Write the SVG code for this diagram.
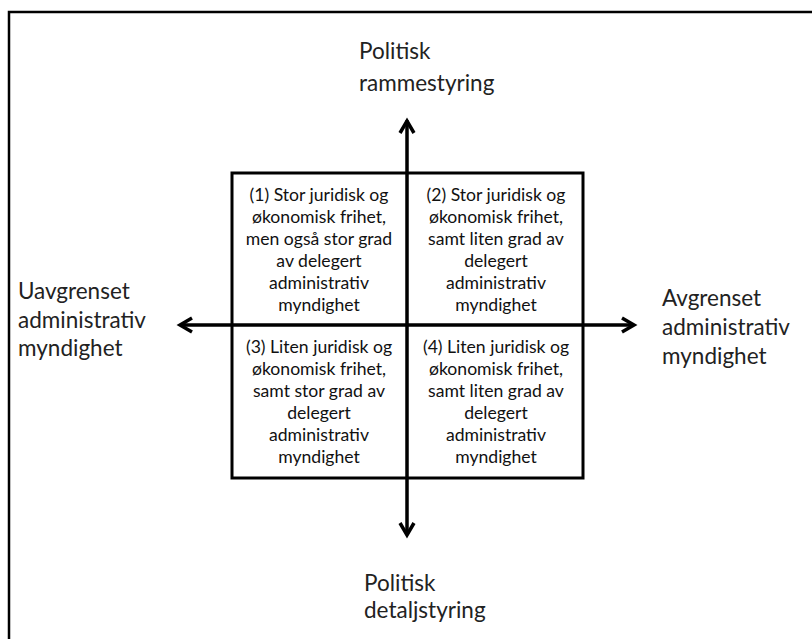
<svg xmlns="http://www.w3.org/2000/svg" width="812" height="639" viewBox="0 0 812 639">
<style>
.lbl{font-family:Lato,"Open Sans","Liberation Sans",sans-serif;font-size:22.5px;fill:#222}
.q{font-family:Lato,"Open Sans","Liberation Sans",sans-serif;font-size:17.6px;fill:#111;text-anchor:middle}
.ax{stroke:#000;stroke-width:3;fill:none}
</style>
<defs>
<marker id="ah" markerUnits="userSpaceOnUse" markerWidth="20" markerHeight="20" viewBox="-16 -10 20 20" refX="0" refY="0" orient="auto">
<path d="M-12,-7 L0,0 L-12,7" fill="none" stroke="#000" stroke-width="3.5" stroke-linejoin="miter"/>
</marker>
</defs>
<rect width="812" height="639" fill="#fff"/>
<path d="M9,639 V12 H812" fill="none" stroke="#000" stroke-width="2.5"/>
<g id="frame">
<rect x="232" y="173" width="351" height="305" fill="#fff" stroke="#000" stroke-width="3"/>
</g>
<g id="connectors">
<line class="ax" x1="407" y1="530" x2="407" y2="121" marker-end="url(#ah)"/>
<line class="ax" x1="407" y1="120" x2="407" y2="535" marker-end="url(#ah)"/>
<line class="ax" x1="634" y1="325" x2="180" y2="325" marker-end="url(#ah)"/>
<line class="ax" x1="180" y1="325" x2="634" y2="325" marker-end="url(#ah)"/>
</g>
<g id="top-label"><text class="lbl" x="359" y="59">Politisk</text><text class="lbl" x="359" y="91">rammestyring</text></g>
<g id="bottom-label"><text class="lbl" x="364" y="591">Politisk</text><text class="lbl" x="364" y="618">detaljstyring</text></g>
<g id="left-label"><text class="lbl" x="18" y="299">Uavgrenset</text><text class="lbl" x="18" y="328">administrativ</text><text class="lbl" x="18" y="356">myndighet</text></g>
<g id="right-label"><text class="lbl" x="662" y="306">Avgrenset</text><text class="lbl" x="662" y="335">administrativ</text><text class="lbl" x="662" y="364">myndighet</text></g>
<g id="q1"><text class="q" x="319" y="201">(1) Stor juridisk og</text><text class="q" x="319" y="223">økonomisk frihet,</text><text class="q" x="319" y="245">men også stor grad</text><text class="q" x="319" y="267">av delegert</text><text class="q" x="319" y="289">administrativ</text><text class="q" x="319" y="311">myndighet</text></g>
<g id="q2"><text class="q" x="496" y="201">(2) Stor juridisk og</text><text class="q" x="496" y="223">økonomisk frihet,</text><text class="q" x="496" y="245">samt liten grad av</text><text class="q" x="496" y="267">delegert</text><text class="q" x="496" y="289">administrativ</text><text class="q" x="496" y="311">myndighet</text></g>
<g id="q3"><text class="q" x="319" y="353">(3) Liten juridisk og</text><text class="q" x="319" y="375">økonomisk frihet,</text><text class="q" x="319" y="397">samt stor grad av</text><text class="q" x="319" y="419">delegert</text><text class="q" x="319" y="441">administrativ</text><text class="q" x="319" y="463">myndighet</text></g>
<g id="q4"><text class="q" x="496" y="353">(4) Liten juridisk og</text><text class="q" x="496" y="375">økonomisk frihet,</text><text class="q" x="496" y="397">samt liten grad av</text><text class="q" x="496" y="419">delegert</text><text class="q" x="496" y="441">administrativ</text><text class="q" x="496" y="463">myndighet</text></g>
</svg>
